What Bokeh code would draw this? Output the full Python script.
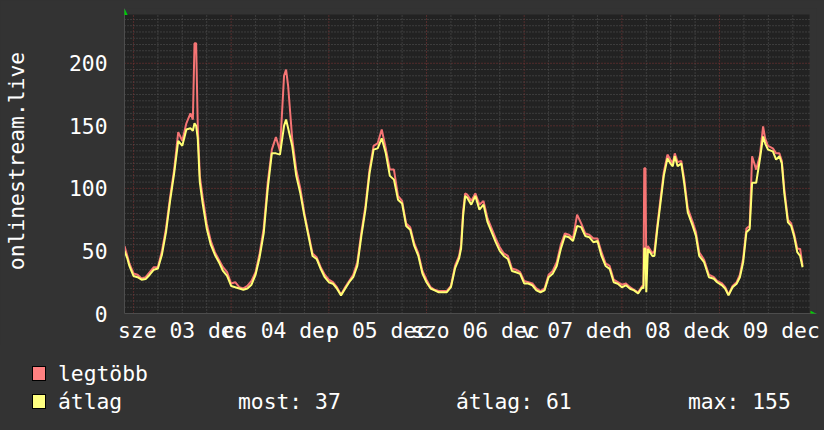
from bokeh.plotting import figure
from bokeh.models import Range1d, FixedTicker, Label, Div
from bokeh.layouts import column
from bokeh.embed import file_html
from bokeh.resources import INLINE

# ---------------- data (hours from 2025-12-03 00:00) ----------------
hours = [-2.2, -1.5, -1, 0, 1, 2, 3, 4, 5, 6, 7, 8, 9, 10, 11, 12, 13, 14, 14.6, 15,
         15.4, 15.8, 16.3, 17, 18, 19, 20, 21, 22, 23, 24, 25, 26, 27, 28, 29, 30, 31, 32, 33,
         34, 35, 36, 37, 37.5, 38, 39, 40, 41, 42, 43, 44, 45, 46, 47, 48, 49, 50, 51, 52,
         53, 54, 55, 56, 57, 58, 59, 60, 61, 62, 63, 64, 65, 66, 67, 68, 69, 70, 71, 72,
         73, 74, 75, 76, 77, 78, 79, 80, 80.5, 81, 81.5, 82, 83, 84, 85, 86, 87, 88, 89, 90,
         91, 92, 93, 94, 95, 96, 97, 98, 99, 100, 101, 102, 103, 104, 105, 106, 107, 108, 109, 110,
         111, 112, 113, 114, 115, 116, 117, 118, 119, 120, 121, 122, 123, 124, 125, 125.3, 125.5, 125.8, 126.0, 126.4,
         127.5, 128, 128.7, 129.5, 130.3, 131.2, 131.9, 132.5, 133, 133.7, 134.6, 135.3, 136.2, 137.4, 138.2, 139, 140.2, 141.4, 142.6, 143.4,
         144.6, 145.4, 146.2, 147.2, 148.2, 149, 149.8, 150.6, 151.4, 152, 153, 153.9, 154.7, 155.2, 155.9, 157.1, 157.9, 158.7, 159.3, 159.9,
         160.8, 161.6, 162.3, 163.1, 163.8, 164.4]

atlag = [50, 44, 38, 30, 29, 27, 27.5, 31, 35, 36, 47, 65, 90, 112, 138, 134, 147, 148, 146, 152,
         150, 140, 105, 88, 68, 55, 47, 41, 34, 30, 22, 21, 20, 19, 20, 23, 31, 45, 64, 100,
         128, 128, 127, 150, 155, 148, 134, 110, 96, 78, 62, 46, 43.6, 35.7, 29, 25, 23.8, 19.8, 14.5, 19.8,
         25, 29, 38, 62, 83, 112, 131, 132, 140, 128, 110, 107, 91, 88, 70, 67, 54, 46, 32, 25,
         20, 18.5, 17, 17, 17, 21, 36, 44, 52, 78, 94, 92.6, 87, 94, 83, 87, 73, 65, 57, 50,
         46, 43.6, 34, 33, 31.7, 24, 24, 22.5, 18.5, 17, 18.5, 29, 31.7, 38, 51.6, 62, 61, 58, 70, 69,
         62, 61, 57, 58, 46, 38, 35.7, 25, 23.8, 21, 22.5, 19.8, 18.5, 16, 21, 20, 52, 52, 17, 51.6,
         46, 46, 67.5, 88.6, 110, 124, 120, 117.7, 125.7, 117.7, 120, 104.5, 80.7, 70, 62, 46, 41, 29, 27.8, 25,
         22.5, 19.8, 14.5, 21, 23.8, 29, 41, 65, 67.5, 104.5, 104.5, 123, 141.5, 136, 131, 129.6, 123, 125.7, 120, 96.5,
         72.8, 70, 62, 49, 46, 37]

legtobb = [54, 46, 40, 32, 31, 28, 29, 33, 37, 37, 50, 68, 93, 115, 145, 138, 152, 160, 155, 216,
           216, 150, 110, 93, 72, 58, 49, 43, 37, 33, 24, 25, 21, 20, 22, 26, 33, 48, 68, 105,
           131, 141, 130, 190, 195, 182, 140, 115, 100, 80, 64, 48, 45, 37, 31, 27, 25, 21, 15, 21,
           26, 31, 41, 65, 86, 115, 134, 136, 147, 132, 115, 115, 94, 90, 72, 69, 56, 48, 34, 27,
           21, 19, 18, 18, 18, 22, 38, 46, 55, 82, 96, 95, 90, 96, 87, 90, 76, 68, 60, 53,
           48, 46, 36, 35, 33, 26, 25, 24, 20, 18, 20, 31, 34, 41, 55, 64, 63, 60, 79, 72,
           64, 63, 60, 60, 49, 40, 38, 27, 25, 23, 24, 21, 19, 17, 22, 22, 116, 116, 36, 54,
           48, 50, 70, 92, 113, 127, 123, 120, 128, 121, 122, 108, 84, 73, 65, 49, 43, 31, 29, 26,
           24, 21, 15, 22, 25, 31, 44, 68, 70, 125.7, 115, 126, 149.5, 140, 134, 132, 128, 128, 122, 100,
           75, 72, 64, 52, 51.6, 38]

assert len(hours) == len(atlag) == len(legtobb)

day_ticks = [12, 36, 60, 84, 108, 132, 156]
day_labels = ["sze 03 dec", "cs 04 dec", "p 05 dec", "szo 06 dec", "v 07 dec", "h 08 dec", "k 09 dec"]
midnights = [0, 24, 48, 72, 96, 120, 144]
y_ticks = [0, 50, 100, 150, 200]
y_title = "onlinestream.live"
legend_names = ["legtöbb", "átlag"]
stats_labels = ["most: 37", "átlag: 61", "max: 155"]

# ---------------- style ----------------
BG = "#333333"
CANVAS = "#222222"
FONT = "DejaVu Sans Mono"
FS = "16pt"
RED = "#f57474"
YEL = "#ffff74"
MGRID = "#853636"
GRID = "#585858"
ARROW = "#00d000"

# time window drawn on the dark canvas, and value top
T0, T1, VTOP = -2.2, 166.1, 239
PXH = 4.0701      # px per hour
PXV = 1.2594      # px per unit

W, H_MAIN, H_LEG = 824, 345, 85
FL, FT, FB = 124, 8, 315                      # frame left/top/bottom (page px)
FR = 816                                      # frame right (room for arrow)
X1 = T0 + (FR - FL) / PXH
Y1 = (FB - FT) / PXV

p = figure(width=W, height=H_MAIN, output_backend="svg", toolbar_location=None,
           x_range=Range1d(T0, X1), y_range=Range1d(0, Y1),
           min_border_left=FL, min_border_right=W - FR, min_border_top=FT,
           min_border_bottom=H_MAIN - FB)
p.background_fill_color = BG
p.border_fill_color = BG
p.outline_line_color = None
p.xgrid.visible = False
p.ygrid.visible = False

# dark canvas
p.quad(left=[T0], right=[T1], bottom=[0], top=[VTOP], fill_color=CANVAS, line_color=None)

# grid (minor grey dotted, major red dotted)
minor_x = [h for h in range(6, int(T1) + 1, 6) if h % 24 != 0]
minor_y = [v for v in range(5, VTOP, 5) if v % 50 != 0]
p.segment(x0=minor_x, x1=minor_x, y0=[0] * len(minor_x), y1=[VTOP] * len(minor_x),
          line_color=GRID, line_dash="1 2", line_width=1)
p.segment(x0=[T0] * len(minor_y), x1=[T1] * len(minor_y), y0=minor_y, y1=minor_y,
          line_color=GRID, line_dash="1 2", line_width=1)
major_y = [v for v in y_ticks if v > 0]
p.segment(x0=midnights, x1=midnights, y0=[0] * len(midnights), y1=[VTOP] * len(midnights),
          line_color=MGRID, line_dash="1 2", line_width=1)
p.segment(x0=[T0] * len(major_y), x1=[T1] * len(major_y), y0=major_y, y1=major_y,
          line_color=MGRID, line_dash="1 2", line_width=1)

p.yaxis.ticker = FixedTicker(ticks=y_ticks)
p.xaxis.ticker = FixedTicker(ticks=day_ticks)
p.xaxis.major_label_overrides = {t: l for t, l in zip(day_ticks, day_labels)}
for ax in (p.xaxis, p.yaxis):
    ax.major_label_text_font = FONT
    ax.major_label_text_font_size = FS
    ax.major_label_text_color = "#ffffff"
    ax.major_tick_line_color = None
    ax.minor_tick_line_color = None
    ax.major_tick_out = 0
    ax.minor_tick_out = 0
    ax.major_tick_in = 0
    ax.minor_tick_in = 0
    ax.axis_line_color = "#4d4d4d"
p.yaxis.major_label_standoff = 17
p.xaxis.major_label_standoff = 4
p.yaxis.axis_label = y_title
p.yaxis.axis_label_text_font = FONT
p.yaxis.axis_label_text_font_size = FS
p.yaxis.axis_label_text_font_style = "normal"
p.yaxis.axis_label_text_color = "#ffffff"
p.yaxis.axis_label_standoff = 37

p.line(hours, legtobb, line_color=RED, line_width=2)
p.line(hours, atlag, line_color=YEL, line_width=2)

# axis arrows
p.add_layout(Label(x=T0, y=(FB - 11) / PXV, text="▲", text_font="DejaVu Sans",
                   text_font_size="8px", text_color=ARROW, text_align="center", text_baseline="middle"))
p.add_layout(Label(x=T0 + (813 - FL) / PXH, y=0, text="▶", text_font="DejaVu Sans",
                   text_font_size="8px", text_color=ARROW, text_align="center", text_baseline="middle"))

# ---------------- legend (HTML block under the chart) ----------------
def box(top, col):
    return (f'<div style="position:absolute;left:32px;top:{top}px;width:14px;height:15px;'
            f'box-sizing:border-box;border:1px solid #000;background:{col};"></div>')

def txt(left, center, s):
    return (f'<div style="position:absolute;left:{left}px;top:{center - 12}px;height:24px;'
            f'line-height:24px;white-space:pre;">{s}</div>')

leg_html = (f'<div style="position:relative;width:{W}px;height:{H_LEG}px;background:{BG};'
            f'color:#ffffff;font-family:\'{FONT}\';font-size:{FS};">'
            + box(21, "#ff8080") + txt(58, 29, legend_names[0])
            + box(49, "#ffff80") + txt(58, 57, legend_names[1])
            + txt(238, 57, stats_labels[0]) + txt(456, 57, stats_labels[1]) + txt(688, 57, stats_labels[2])
            + '</div>')
leg = Div(text=leg_html, width=W, height=H_LEG, margin=0)

layout = column(p, leg, spacing=0)
html = file_html(layout, INLINE)
html = html.replace("</head>",
                    "<style>html,body{margin:0 !important;padding:0 !important;"
                    "background:#333333 !important;overflow:hidden;}</style></head>", 1)
open("out.html", "w").write(html)
